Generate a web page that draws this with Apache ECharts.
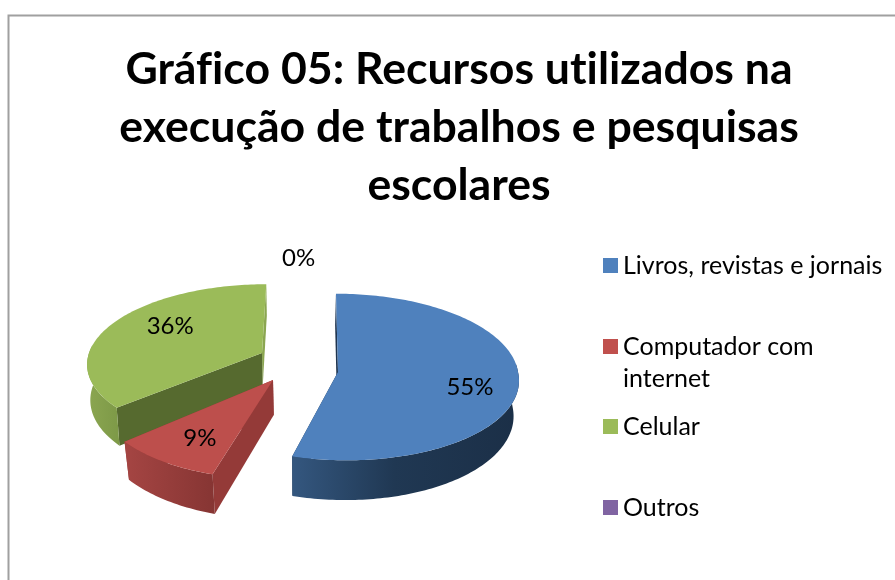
<!DOCTYPE html>
<html>
<head>
<meta charset="utf-8">
<style>
    html, body { margin: 0; padding: 0; background: #fff; }
    #main { width: 895px; height: 580px; }
</style>
<script src="https://cdn.jsdelivr.net/npm/echarts@6/dist/echarts.min.js"></script>
</head>
<body>
<div id="main"></div>
<script>
// dados (60/10/40/0 dá os 55%, 9%, 36% e 0% dos rótulos)
const categories = ['Livros, revistas e jornais', 'Computador com internet', 'Celular', 'Outros'];
const values = [60, 10, 40, 0];
const titleText = 'Gráfico 05: Recursos utilizados na\nexecução de trabalhos e pesquisas\nescolares';

const fontName = 'Lato, Carlito, "Open Sans", sans-serif';
const centerX = 302;      // eixo da perspectiva
const depth = 35;         // altura da "fatia"

// estilo e posição de cada fatia (explosão, raios, perspectiva)
const sliceStyles = [
    { dx: 36, cy: 372, rx: 180, ry: 83, c: 0.06, nearShift: 6, bottomScale: 0.975,
      top: '#4f81bd', faceStart: '#1f3550', faceEnd: '#1f3550',
      wall: [[0, '#34577f'], [0.45, '#203853'], [1, '#1b2f47']], labelT: [0.73, 1.3] },
    { dx: -29, cy: 380, rx: 178, ry: 87, c: 0.12, nearShift: 0, bottomScale: 0.975,
      top: '#bd4f4c', faceStart: '#943a38', faceEnd: '#943a38',
      wall: [[0, '#a54543'], [1, '#863533']], labelT: [0.68, 0.74] },
    { dx: -40, cy: 353, rx: 173, ry: 77, c: 0.12, nearShift: 0, bottomScale: 0.985,
      top: '#9bbb59', faceStart: '#566a2f', faceEnd: '#8ba651',
      wall: [[0, '#8ba651'], [1, '#7d9947']], labelT: [0.62, 0.88] },
    { dx: -4, cy: 361, rx: 0, ry: 76, c: 0.12, nearShift: 0, bottomScale: 0.975,
      top: '#8064a2', faceStart: '#8064a2', faceEnd: '#8064a2',
      wall: [[0, '#8064a2'], [1, '#8064a2']], labelT: [0, 1.62] }
];
const legendTops = [265.5, 346.5, 426.5, 507.5];

const total = values.reduce((a, b) => a + b, 0);

function project(s, angle, t) {
    let X = Math.sin(angle) * t;
    let Y = Math.cos(angle) * t;
    let k = 1 / (1 + s.c * Y);
    return [centerX + (s.dx + s.rx * X) * k + s.nearShift * Math.max(0, -Y), s.cy - s.ry * Y * k];
}

// ponto correspondente na base da fatia
function lower(s, p, angle, t) {
    let k = 1 / (1 + 0.12 * Math.cos(angle) * t);
    return [centerX + (p[0] - centerX) * s.bottomScale, p[1] + depth * k];
}

function arc(s, a1, a2) {
    let pts = [];
    let n = Math.max(2, Math.ceil((a2 - a1) / 0.02));
    for (let i = 0; i <= n; i++) {
        pts.push(project(s, a1 + (a2 - a1) * i / n, 1));
    }
    return pts;
}

function renderSlice(index) {
    return function (params, api) {
        let s = sliceStyles[index];
        let before = values.slice(0, index).reduce((a, b) => a + b, 0);
        let value = api.value(0);
        let a1 = before / total * Math.PI * 2;
        let a2 = (before + value) / total * Math.PI * 2;
        let mid = (a1 + a2) / 2;
        let children = [];

        if (value > 0) {
            let apex = project(s, 0, 0);
            let apexLow = lower(s, apex, 0, 0);
            let p1 = project(s, a1, 1);
            let p2 = project(s, a2, 1);
            // faces de corte
            [[p2, a2, s.faceEnd], [p1, a1, s.faceStart]].forEach(function (e) {
                children.push({
                    type: 'polygon',
                    shape: { points: [apex, e[0], lower(s, e[0], e[1], 1), apexLow] },
                    style: { fill: e[2] }
                });
            });
            // parede externa, só a parte da frente
            let w1 = Math.max(a1, Math.PI * 0.47);
            let w2 = Math.min(a2, Math.PI * 1.53);
            let n = Math.max(2, Math.ceil((w2 - w1) / 0.02));
            let topEdge = [], lowEdge = [];
            for (let i = 0; i <= n; i++) {
                let a = w1 + (w2 - w1) * i / n;
                let p = project(s, a, 1);
                topEdge.push(p);
                lowEdge.unshift(lower(s, p, a, 1));
            }
            children.push({
                type: 'polygon',
                shape: { points: topEdge.concat(lowEdge) },
                style: {
                    fill: new echarts.graphic.LinearGradient(0, 0, 1, 0,
                        s.wall.map(c => ({ offset: c[0], color: c[1] })))
                }
            });
            // topo
            children.push({
                type: 'polygon',
                shape: { points: [apex].concat(arc(s, a1, a2)) },
                style: { fill: s.top }
            });
        }

        // rótulo de porcentagem
        let k = 1 / (1 + s.c * Math.cos(mid) * s.labelT[1]);
        children.push({
            type: 'text',
            z2: 50,
            style: {
                x: centerX + (s.dx + s.rx * Math.sin(mid) * s.labelT[0]) * k,
                y: s.cy - s.ry * Math.cos(mid) * s.labelT[1] * k,
                text: Math.round(value / total * 100) + '%',
                fill: '#000',
                font: '24px ' + fontName,
                align: 'center',
                verticalAlign: 'middle'
            }
        });
        return { type: 'group', children: children };
    };
}

// verde atrás do vermelho
const drawOrder = { 0: 1, 1: 3, 2: 2, 3: 4 };

let chart = echarts.init(document.getElementById('main'));
chart.setOption({
    animation: false,
    backgroundColor: '#fff',
    title: {
        text: titleText,
        left: 454,
        top: 36,
        textAlign: 'center',
        textStyle: {
            fontFamily: fontName,
            fontWeight: 'bold',
            fontSize: 44.6,
            lineHeight: 58,
            color: '#000'
        }
    },
    graphic: [{
        type: 'polyline',
        shape: { points: [[8.5, 580], [8.5, 15.5], [895, 15.5]] },
        style: { stroke: '#a0a0a0', lineWidth: 2, fill: null },
        silent: true
    }],
    legend: categories.map(function (name, i) {
        let twoLines = name === 'Computador com internet';
        return {
            data: [name],
            orient: 'vertical',
            left: 603,
            top: legendTops[i] - (twoLines ? 48 : 16),
            padding: 0,
            icon: 'rect',
            itemWidth: 15,
            itemHeight: 15,
            itemGap: 0,
            selectedMode: false,
            formatter: function (n) {
                // linha vazia em cima para o marcador ficar na primeira linha do texto
                return n === 'Computador com internet' ? ' \nComputador com\ninternet' : n;
            },
            textStyle: {
                fontFamily: fontName,
                fontSize: 25,
                lineHeight: 32,
                color: '#000'
            }
        };
    }),
    series: categories.map(function (name, i) {
        return {
            type: 'custom',
            name: name,
            coordinateSystem: 'none',
            silent: true,
            z: drawOrder[i],
            itemStyle: { color: ['#4f81bd', '#c0504d', '#9bbb59', '#8064a2'][i] },
            data: [values[i]],
            renderItem: renderSlice(i)
        };
    })
});

// sem as ligaduras "fi" e "ti" do Lato
chart.getDom().querySelectorAll('canvas').forEach(function (c) {
    c.getContext('2d').textRendering = 'optimizeSpeed';
});
chart.getZr().painter.refresh(true);
</script>
</body>
</html>
